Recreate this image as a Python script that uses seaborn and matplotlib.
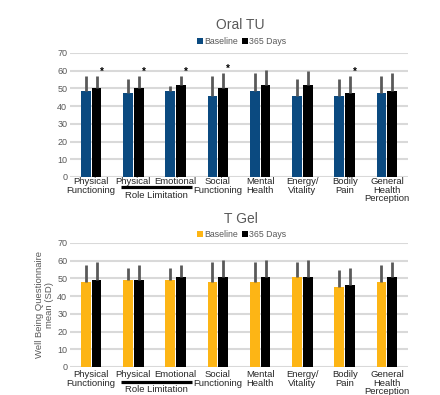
import numpy as np
import pandas as pd
import matplotlib
matplotlib.use("Agg")
import matplotlib.pyplot as plt
import seaborn as sns

# ---------------- data ----------------
categories = ["Physical\nFunctioning", "Physical", "Emotional", "Social\nFunctioning",
              "Mental\nHealth", "Energy/\nVitality", "Bodily\nPain", "General\nHealth\nPerception"]
groups = ["Baseline", "365 Days"]

oral_baseline = [48.7, 47.4, 48.7, 45.8, 48.8, 45.8, 45.8, 47.4]
oral_baseline_sd = [8.5, 8.1, 2.4, 11.4, 9.9, 9.7, 9.7, 9.8]
oral_365 = [50.2, 50.2, 52.0, 50.2, 52.0, 52.0, 47.4, 48.8]
oral_365_sd = [7.0, 7.0, 5.2, 8.5, 8.2, 8.0, 9.8, 9.9]
oral_signif = [1, 1, 1, 1, 0, 0, 1, 0]

gel_baseline = [48.0, 49.3, 49.3, 48.0, 48.0, 50.8, 45.0, 48.0]
gel_baseline_sd = [9.4, 6.6, 6.6, 11.3, 11.3, 8.5, 9.6, 9.6]
gel_365 = [49.3, 49.3, 50.8, 50.8, 50.8, 50.8, 46.5, 50.8]
gel_365_sd = [10.0, 8.1, 6.6, 9.8, 9.8, 9.8, 9.6, 8.5]

yticks = [0, 10, 20, 30, 40, 50, 60, 70]
role_label = "Role Limitation"

# ---------------- style ----------------
sns.set_theme(style="white")
plt.rcParams["font.family"] = ["Liberation Sans", "DejaVu Sans"]
GRAY = "#595959"
GRID = "#D9D9D9"
ERR = "#595959"
TXT = "#262626"

W, H = 440, 395
fig = plt.figure(figsize=(W / 100, H / 100), dpi=100)


def px_axes(left, right, top_px, bottom_px):
    return fig.add_axes([left / W, 1 - bottom_px / H, (right - left) / W, (bottom_px - top_px) / H])


def draw_panel(ax, base, base_sd, d365, d365_sd, colors, signif, tick_pad, role_line_y, role_text_y):
    df = pd.DataFrame({
        "cat": categories * 2,
        "group": [groups[0]] * len(categories) + [groups[1]] * len(categories),
        "val": list(base) + list(d365),
    })
    sns.barplot(data=df, x="cat", y="val", hue="group", hue_order=groups, order=categories,
                palette=colors, saturation=1, width=0.51, gap=0.08, errorbar=None, legend=False,
                linewidth=0, ax=ax, zorder=2)
    sds = {groups[0]: base_sd, groups[1]: d365_sd}
    right_edges = {}
    for p in ax.patches:
        xc = p.get_x() + p.get_width() / 2
        i = int(round(xc))
        g = groups[0] if xc < i else groups[1]
        h = p.get_height()
        ax.errorbar([xc], [h], yerr=[[0], [sds[g][i]]], fmt="none", ecolor=ERR,
                    elinewidth=2.0, capsize=0, zorder=3)
        if g == groups[1]:
            right_edges[i] = (p.get_x() + p.get_width(), h + sds[g][i])
    if signif is not None:
        for i, s in enumerate(signif):
            if s:
                x, top = right_edges[i]
                ax.text(x, top + 2.2, "*", ha="center", va="center", fontsize=7,
                        color="black", fontweight="bold", zorder=4)
    ax.set_ylim(0, 70)
    ax.set_xlim(-0.5, len(categories) - 0.5)
    ax.set_yticks(yticks)
    ax.yaxis.grid(True, color=GRID, linewidth=1.5, zorder=0)
    ax.xaxis.grid(False)
    ax.set_axisbelow(True)
    for s in ax.spines.values():
        s.set_visible(False)
    ax.set_xlabel("")
    ax.set_ylabel("")
    ax.set_xticks(range(len(categories)))
    ax.set_xticklabels(categories, fontsize=6.8, color=TXT, linespacing=0.88)
    ax.tick_params(axis="x", length=0, pad=tick_pad)
    ax.tick_params(axis="y", length=0, pad=2, labelsize=6.5, labelcolor=GRAY)
    trans = matplotlib.transforms.blended_transform_factory(ax.transData, ax.transAxes)
    ax.plot([0.71, 2.38], [role_line_y, role_line_y], transform=trans, color="black",
            linewidth=2.3, clip_on=False, solid_capstyle="butt")
    ax.text(1.55, role_text_y, role_label, transform=trans, ha="center", va="center",
            fontsize=6.8, color=TXT)


def legend_row(y_px, colors):
    from matplotlib.lines import Line2D
    handles = [Line2D([], [], marker="s", linestyle="none", markersize=3.8,
                      markerfacecolor=c, markeredgewidth=0) for c in colors]
    fig.legend(handles, groups, loc="center", bbox_to_anchor=(242 / W, 1 - y_px / H),
               ncol=2, frameon=False, fontsize=6.3, labelcolor=GRAY, handlelength=0.6,
               handletextpad=0.15, columnspacing=0.5, borderpad=0)


oral_colors = ["#0B4A80", "#000000"]
gel_colors = ["#FDB515", "#000000"]

ax1 = px_axes(70, 408, 53, 177)
draw_panel(ax1, oral_baseline, oral_baseline_sd, oral_365, oral_365_sd, oral_colors,
           oral_signif, tick_pad=0.3, role_line_y=-0.08, role_text_y=-0.148)
fig.text(240 / W, 1 - 25 / H, "Oral TU", ha="center", va="center", fontsize=10, color=GRAY)
legend_row(42, oral_colors)

ax2 = px_axes(70, 408, 243, 367)
draw_panel(ax2, gel_baseline, gel_baseline_sd, gel_365, gel_365_sd, gel_colors,
           None, tick_pad=2.5, role_line_y=-0.118, role_text_y=-0.178)
fig.text(241 / W, 1 - 219 / H, "T Gel", ha="center", va="center", fontsize=10, color=GRAY)
legend_row(235, gel_colors)

fig.text(44.5 / W, 1 - 305 / H, "Well Being Questionnaire\nmean (SD)", rotation=90,
         ha="center", va="center", fontsize=6.8, color=GRAY, linespacing=1.15)

fig.savefig("out.png", dpi=100)
